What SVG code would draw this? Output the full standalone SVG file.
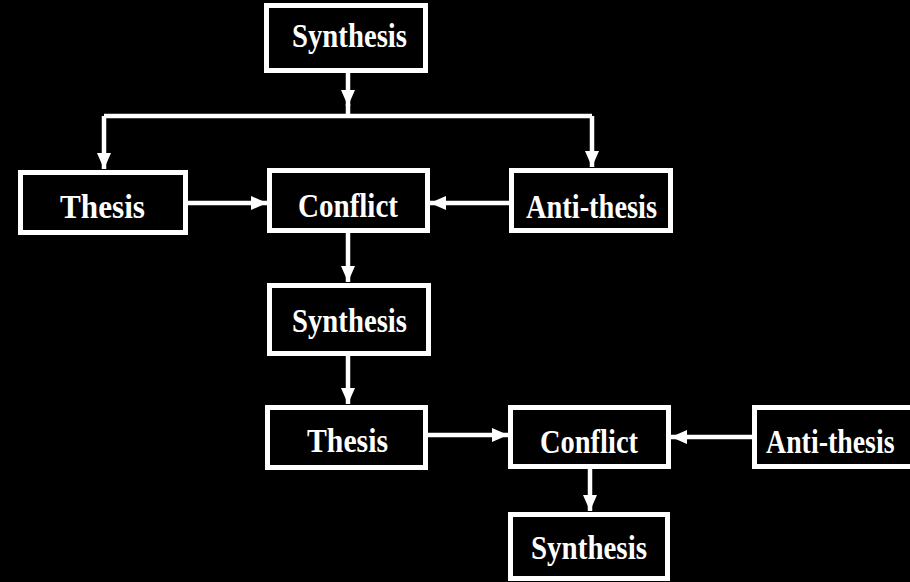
<svg xmlns="http://www.w3.org/2000/svg" width="910" height="582" viewBox="0 0 910 582">
<style>
.box{fill:#000;stroke:#fff;stroke-width:5}
.lbl{fill:#fff;font-family:"Liberation Serif","Times New Roman",serif;font-weight:bold;font-size:34px}
.con{fill:none;stroke:#fff;stroke-width:4.5}
</style>
<defs>
<marker id="ah" viewBox="0 0 16 14" refX="16" refY="7" markerWidth="16" markerHeight="14" markerUnits="userSpaceOnUse" orient="auto">
<path d="M0,0 L16,7 L0,14 z" fill="#fff"/>
</marker>
</defs>
<rect x="0" y="0" width="910" height="582" fill="#000"/>
<g id="connectors">
<path class="con" d="M348,73 V106" marker-end="url(#ah)"/>
<path class="con" d="M348,104 V116"/>
<path class="con" d="M104,116 H592"/>
<path class="con" d="M104,116 V169" marker-end="url(#ah)"/>
<path class="con" d="M592,116 V167" marker-end="url(#ah)"/>
<path class="con" d="M188,203 H267" marker-end="url(#ah)"/>
<path class="con" d="M509,203 H430" marker-end="url(#ah)"/>
<path class="con" d="M348,233 V282" marker-end="url(#ah)"/>
<path class="con" d="M348,356 V404" marker-end="url(#ah)"/>
<path class="con" d="M428,435 H508" marker-end="url(#ah)"/>
<path class="con" d="M752,437 H671" marker-end="url(#ah)"/>
<path class="con" d="M590,469 V511" marker-end="url(#ah)"/>
</g>
<g id="synthesis1">
<rect class="box" x="266.5" y="5.5" width="159" height="65"/>
<text class="lbl" x="292" y="47" textLength="115" lengthAdjust="spacingAndGlyphs">Synthesis</text>
</g>
<g id="thesis1">
<rect class="box" x="20.5" y="172.5" width="165" height="60"/>
<text class="lbl" x="60" y="218" textLength="85" lengthAdjust="spacingAndGlyphs">Thesis</text>
</g>
<g id="conflict1">
<rect class="box" x="269.5" y="170.5" width="158" height="60"/>
<text class="lbl" x="298" y="217" textLength="100" lengthAdjust="spacingAndGlyphs">Conflict</text>
</g>
<g id="antithesis1">
<rect class="box" x="511.5" y="170.5" width="159" height="60"/>
<text class="lbl" x="526" y="218" textLength="131" lengthAdjust="spacingAndGlyphs">Anti-thesis</text>
</g>
<g id="synthesis2">
<rect class="box" x="269.5" y="285.5" width="159" height="68"/>
<text class="lbl" x="292" y="332" textLength="115" lengthAdjust="spacingAndGlyphs">Synthesis</text>
</g>
<g id="thesis2">
<rect class="box" x="267.5" y="407.5" width="158" height="60"/>
<text class="lbl" x="307" y="452" textLength="81" lengthAdjust="spacingAndGlyphs">Thesis</text>
</g>
<g id="conflict2">
<rect class="box" x="510.5" y="407.5" width="158" height="59"/>
<text class="lbl" x="540" y="453" textLength="98" lengthAdjust="spacingAndGlyphs">Conflict</text>
</g>
<g id="antithesis2">
<rect class="box" x="754.5" y="407.5" width="160" height="59"/>
<text class="lbl" transform="translate(766,453) scale(0.82,1)">Anti-thesis</text>
</g>
<g id="synthesis3">
<rect class="box" x="510.5" y="514.5" width="157" height="64"/>
<text class="lbl" x="531" y="559" textLength="116" lengthAdjust="spacingAndGlyphs">Synthesis</text>
</g>
</svg>
